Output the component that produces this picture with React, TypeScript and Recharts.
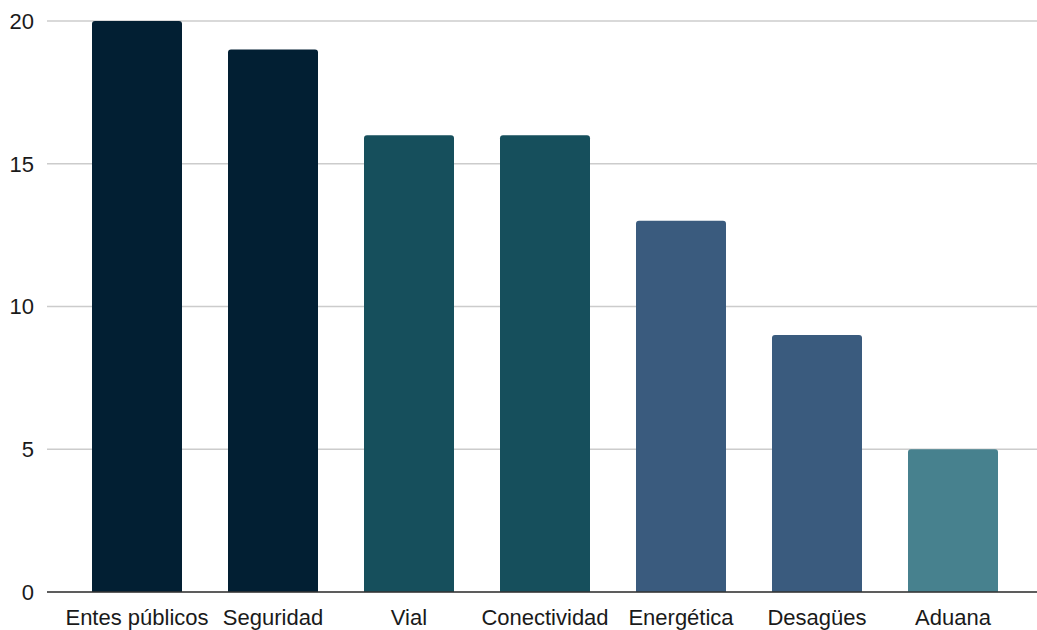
import React from 'react';
import { BarChart, Bar, XAxis, YAxis, CartesianGrid, Cell } from 'recharts';

const categories = ['Entes públicos', 'Seguridad', 'Vial', 'Conectividad', 'Energética', 'Desagües', 'Aduana'];
const counts = [20, 19, 16, 16, 13, 9, 5];
const barColors = ['#021f33', '#021f33', '#164f5c', '#164f5c', '#3a5b7e', '#3a5b7e', '#47818e'];
const yTicks = [0, 5, 10, 15, 20];

const chartData = categories.map((name, i) => ({ name, count: counts[i] }));

const App: React.FC = () => {
    return (
        <div style={{ position: 'absolute', left: 0, top: 0, fontFamily: '"Liberation Sans", Arial, sans-serif' }}>
            <BarChart
                width={1037}
                height={630}
                data={chartData}
                margin={{ top: 21, right: 0, left: 0, bottom: 0 }}
                barCategoryGap={23}
            >
                <CartesianGrid vertical={false} stroke="#cccccc" strokeWidth={1.5} />
                <XAxis
                    dataKey="name"
                    height={38}
                    padding={{ left: 22, right: 16 }}
                    tickLine={false}
                    tickSize={0}
                    tickMargin={17}
                    axisLine={{ stroke: '#333333', strokeWidth: 1.5 }}
                    tick={{ fill: '#1a1a1a', fontSize: 22 }}
                    interval={0}
                />
                <YAxis
                    width={47}
                    domain={[0, 20]}
                    ticks={yTicks}
                    axisLine={false}
                    tickLine={false}
                    tickSize={0}
                    tickMargin={13}
                    tick={{ fill: '#1a1a1a', fontSize: 22 }}
                />
                <Bar dataKey="count" radius={[3, 3, 0, 0]} isAnimationActive={false}>
                    {chartData.map((d, i) => (
                        <Cell key={d.name} fill={barColors[i]} />
                    ))}
                </Bar>
            </BarChart>
        </div>
    );
};

export default App;
